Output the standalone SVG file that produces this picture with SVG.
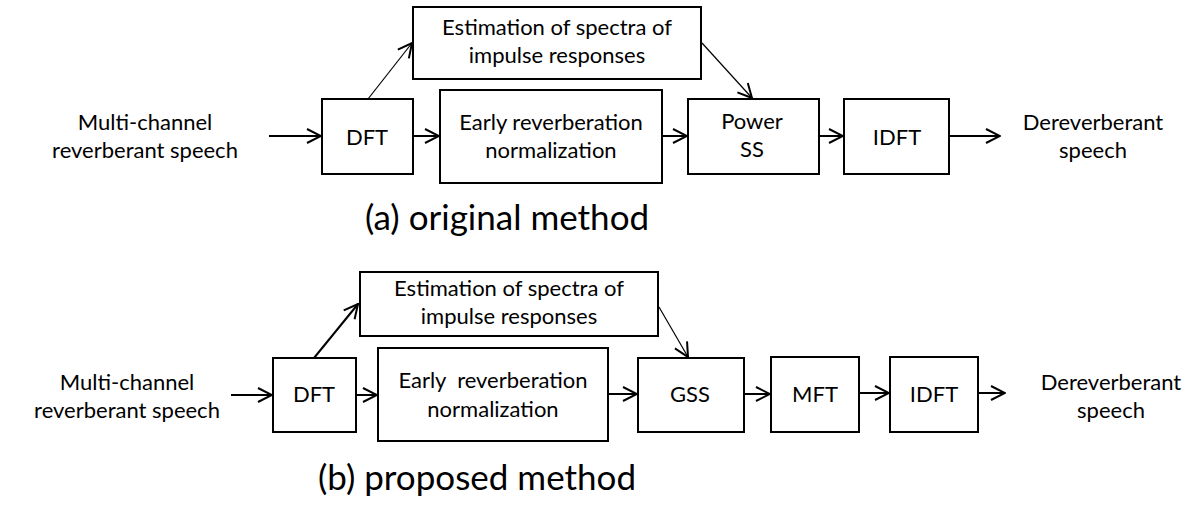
<svg xmlns="http://www.w3.org/2000/svg" width="1200" height="507" viewBox="0 0 1200 507">
<defs>
<marker id="ah" viewBox="0 0 16 16" refX="15" refY="8" markerWidth="16" markerHeight="16" markerUnits="userSpaceOnUse" orient="auto">
<path d="M1,1 L15,8 L1,15" fill="none" stroke="#000" stroke-width="2"/>
</marker>
</defs>
<style>
.box{fill:#fff;stroke:#000;stroke-width:2}
.t{font-family:Lato,"Liberation Sans",sans-serif;font-size:22px;fill:#000;text-anchor:middle}
.cap{font-family:Lato,"Liberation Sans",sans-serif;font-size:35px;fill:#000;text-anchor:middle}
.c{stroke:#000;stroke-width:2;fill:none;marker-end:url(#ah)}
.d{stroke:#000;stroke-width:1.2;fill:none;marker-end:url(#ah)}
</style>
<rect width="1200" height="507" fill="#fff"/>

<!-- (a) original method -->
<g id="a-input"><text class="t" x="145" y="130">Multi-channel</text><text class="t" x="145" y="158">reverberant speech</text></g>
<g id="a-dft"><rect class="box" x="322" y="99" width="91" height="75"/><text class="t" x="367" y="145">DFT</text></g>
<g id="a-est"><rect class="box" x="413" y="7" width="288" height="72"/><text class="t" x="557" y="35">Estimation of spectra of</text><text class="t" x="557" y="63">impulse responses</text></g>
<g id="a-er"><rect class="box" x="440" y="90" width="222" height="93"/><text class="t" x="551" y="130">Early reverberation</text><text class="t" x="551" y="158">normalization</text></g>
<g id="a-pss"><rect class="box" x="688" y="99" width="131" height="75"/><text class="t" x="752" y="129">Power</text><text class="t" x="752" y="157">SS</text></g>
<g id="a-idft"><rect class="box" x="844" y="99" width="105" height="75"/><text class="t" x="897" y="145">IDFT</text></g>
<g id="a-output"><text class="t" x="1093" y="130">Dereverberant</text><text class="t" x="1093" y="158">speech</text></g>
<text class="cap" x="507" y="230">(a) original method</text>

<!-- (b) proposed method -->
<g id="b-input"><text class="t" x="127" y="390">Multi-channel</text><text class="t" x="127" y="418">reverberant speech</text></g>
<g id="b-dft"><rect class="box" x="273" y="358" width="83" height="74"/><text class="t" x="314" y="402">DFT</text></g>
<g id="b-est"><rect class="box" x="360" y="272" width="298" height="64"/><text class="t" x="509" y="296">Estimation of spectra of</text><text class="t" x="509" y="324">impulse responses</text></g>
<g id="b-er"><rect class="box" x="378" y="348" width="230" height="93"/><text class="t" x="493" y="388" xml:space="preserve">Early  reverberation</text><text class="t" x="493" y="417">normalization</text></g>
<g id="b-gss"><rect class="box" x="638" y="358" width="106" height="74"/><text class="t" x="690" y="402">GSS</text></g>
<g id="b-mft"><rect class="box" x="771" y="357" width="88" height="75"/><text class="t" x="815" y="402">MFT</text></g>
<g id="b-idft"><rect class="box" x="890" y="357" width="88" height="75"/><text class="t" x="934" y="402">IDFT</text></g>
<g id="b-output"><text class="t" x="1111" y="390">Dereverberant</text><text class="t" x="1111" y="418">speech</text></g>
<text class="cap" x="477" y="490">(b) proposed method</text>

<g id="connectors">
<line class="c" x1="269" y1="136" x2="321" y2="136"/>
<line class="d" x1="368" y1="99" x2="412" y2="43"/>
<line class="c" x1="413" y1="136" x2="439" y2="136"/>
<line class="c" x1="662" y1="136" x2="687" y2="136"/>
<line class="d" x1="702" y1="43" x2="752" y2="98"/>
<line class="c" x1="819" y1="136" x2="843" y2="136"/>
<line class="c" x1="949" y1="136" x2="1000" y2="136"/>

<line class="c" x1="231" y1="395" x2="272" y2="395"/>
<line class="c" x1="314" y1="358" x2="358" y2="304"/>
<line class="c" x1="356" y1="395" x2="377" y2="395"/>
<line class="c" x1="608" y1="394" x2="637" y2="394"/>
<line class="d" x1="659" y1="307" x2="688" y2="357"/>
<line class="c" x1="744" y1="394" x2="770" y2="394"/>
<line class="c" x1="859" y1="393" x2="889" y2="393"/>
<line class="c" x1="978" y1="393" x2="1005" y2="393"/>
</g>
</svg>
